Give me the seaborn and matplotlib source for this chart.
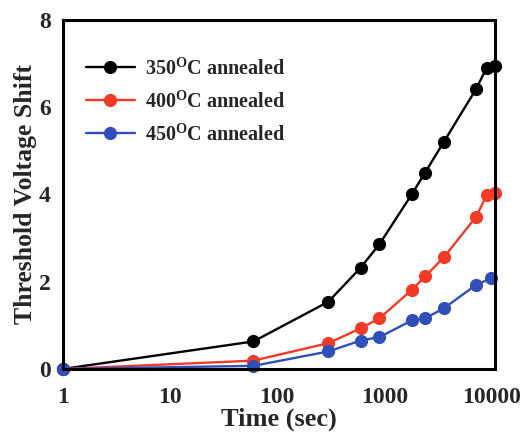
import matplotlib
matplotlib.use("Agg")
import matplotlib.pyplot as plt
import seaborn as sns
import pandas as pd
from matplotlib.ticker import FixedLocator, LogLocator, NullFormatter

# ---- data ----
times_350 = [1, 60, 300, 600, 900, 1800, 2400, 3600, 7200, 9000, 10800]
shift_350 = [0, 0.63, 1.54, 2.32, 2.86, 4.0, 4.5, 5.21, 6.42, 6.9, 6.95]
times_400 = [1, 60, 300, 600, 900, 1800, 2400, 3600, 7200, 9000, 10800]
shift_400 = [0, 0.19, 0.59, 0.93, 1.16, 1.81, 2.12, 2.56, 3.49, 3.98, 4.04]
times_450 = [1, 60, 300, 600, 900, 1800, 2400, 3600, 7200, 10000]
shift_450 = [0, 0.07, 0.40, 0.65, 0.73, 1.11, 1.16, 1.39, 1.93, 2.08]
labels = ["350$^{\\mathbf{O}}$C annealed", "400$^{\\mathbf{O}}$C annealed", "450$^{\\mathbf{O}}$C annealed"]
colors = ["#000000", "#f23a26", "#3050b8"]
x_ticks = [1, 10, 100, 1000, 10000]
x_ticklabels = ["1", "10", "100", "1000", "10000"]
y_ticks = [0, 2, 4, 6, 8]

df = pd.concat([
    pd.DataFrame({"time": times_350, "shift": shift_350, "series": labels[0]}),
    pd.DataFrame({"time": times_400, "shift": shift_400, "series": labels[1]}),
    pd.DataFrame({"time": times_450, "shift": shift_450, "series": labels[2]}),
], ignore_index=True)

sns.set_style("white")
plt.rcParams["font.family"] = ["Liberation Serif", "DejaVu Serif"]
plt.rcParams["font.weight"] = "bold"
plt.rcParams["mathtext.fontset"] = "custom"
plt.rcParams["mathtext.rm"] = "Liberation Serif:bold"
plt.rcParams["mathtext.bf"] = "Liberation Serif:bold"

fig = plt.figure(figsize=(5.25, 4.33), dpi=100)
ax = fig.add_axes([0.12, 0.148, 0.823, 0.806])

sns.lineplot(data=df, x="time", y="shift", hue="series", hue_order=labels,
             palette=colors, marker="o", markersize=9.5, markeredgewidth=0,
             linewidth=1.7, ax=ax, sort=False, estimator=None, clip_on=False)

ax.set_xscale("log")
ax.set_xlim(1, 10800)
ax.set_ylim(0, 8)
ax.xaxis.set_major_locator(FixedLocator(x_ticks))
ax.set_xticklabels(x_ticklabels)
ax.xaxis.set_minor_locator(LogLocator(base=10, subs=range(2, 10)))
ax.xaxis.set_minor_formatter(NullFormatter())
ax.set_yticks(y_ticks)

ax.tick_params(axis="both", which="major", direction="in", length=5, width=1.5,
               labelsize=17, top=False, right=False)
ax.tick_params(axis="x", which="major", pad=13)
ax.tick_params(axis="y", which="major", pad=9)
ax.tick_params(axis="x", which="minor", direction="in", length=3, width=1.2, top=False)
for lab in ax.get_xticklabels() + ax.get_yticklabels():
    lab.set_fontweight("bold")

for sp in ax.spines.values():
    sp.set_linewidth(2.2)
    sp.set_color("black")

ax.set_xlabel("Time (sec)", fontsize=19, fontweight="bold", labelpad=0)
ax.set_ylabel("Threshold Voltage Shift", fontsize=18.5, fontweight="bold", labelpad=1)

leg = ax.legend(loc="upper left", bbox_to_anchor=(0.035, 0.915), frameon=False,
                fontsize=14.5, handlelength=2.4, handletextpad=0.5, labelspacing=0.55,
                borderaxespad=0)
for t in leg.get_texts():
    t.set_fontweight("bold")

fig.savefig("out.png", dpi=100)
